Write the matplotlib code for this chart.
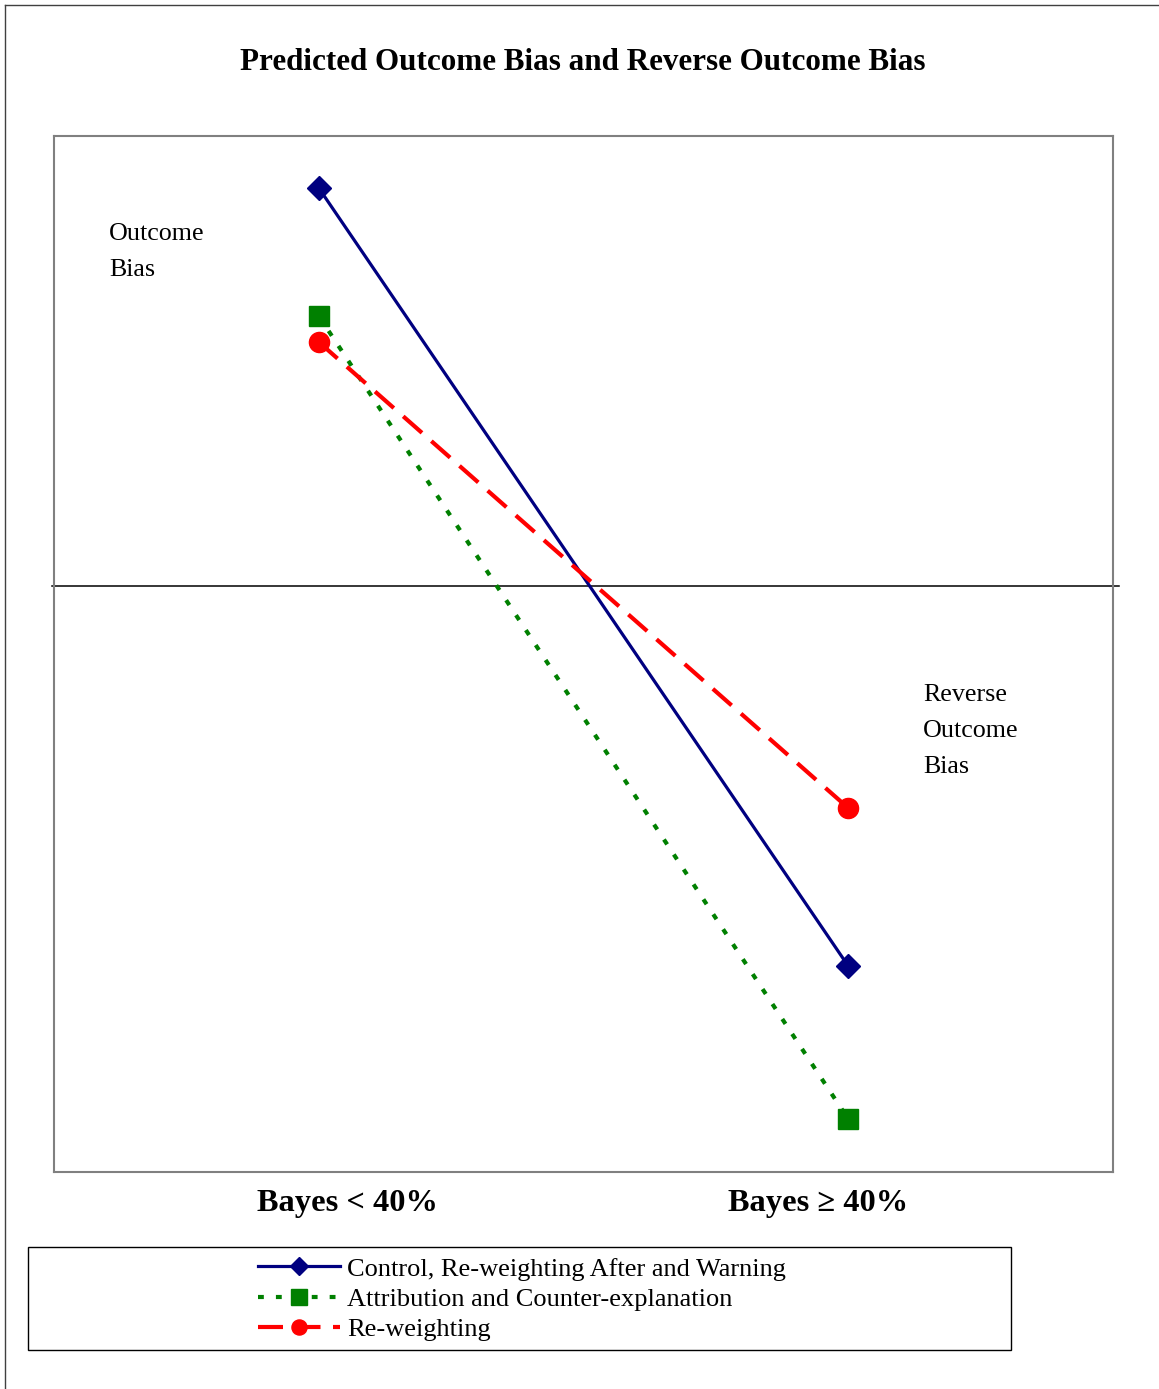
import matplotlib.pyplot as plt
from matplotlib.patches import Rectangle
from matplotlib.lines import Line2D

plt.rcParams['font.family'] = ['Liberation Serif', 'DejaVu Serif']

# categories and series (zero line = no bias)
categories = ['Bayes < 40%', 'Bayes \u2265 40%']
control = [3.98, -3.80]
attribution = [2.70, -5.33]
reweighting = [2.44, -2.22]
labels = ['Control, Re-weighting After and Warning',
          'Attribution and Counter-explanation',
          'Re-weighting']

fig = plt.figure(figsize=(11.59, 13.89), dpi=100)
ax = fig.add_axes([0.0466, 0.1562, 0.9137, 0.7459])

x = [1, 2]
ax.plot(x, control, color='#000080', lw=2.3, marker='D', ms=12, label=labels[0])
ax.plot(x, attribution, color='#008000', lw=3, marker='s', ms=14.5,
        dashes=(1.4, 2.9), label=labels[1])
ax.plot(x, reweighting, color='#ff0000', lw=3, marker='o', ms=14.5,
        dashes=(6, 3), label=labels[2])

# zero line sticks out a little past the frame
ax.plot([-0.002, 1.0057], [0.5652, 0.5652], transform=ax.transAxes,
        color='black', lw=1.1, clip_on=False, zorder=1)

ax.set_xlim(0.5, 2.5)
ax.set_ylim(-5.86, 4.50)
ax.set_xticks([])
ax.set_yticks([])
for s in ax.spines.values():
    s.set_color('#808080')
    s.set_linewidth(1.5)

ax.text(0.052, 0.888, 'Outcome\nBias', transform=ax.transAxes, fontsize=18.7,
        va='center', ha='left', linespacing=1.82)
ax.text(0.8206, 0.426, 'Reverse\nOutcome\nBias', transform=ax.transAxes,
        fontsize=18.7, va='center', ha='left', linespacing=1.82)

# category labels under the frame
fig.text(347 / 1159, 1 - 1204 / 1389, categories[0], fontsize=23.3,
         fontweight='bold', ha='center', va='center')
fig.text(818 / 1159, 1 - 1204 / 1389, categories[1], fontsize=23.3,
         fontweight='bold', ha='center', va='center')

fig.text(0.503, 1 - 63 / 1389, 'Predicted Outcome Bias and Reverse Outcome Bias',
         fontsize=22.4, fontweight='bold', ha='center', va='center')

# legend box
fig.patches.append(Rectangle((28 / 1159, 1 - 1350 / 1389), 983 / 1159, 103 / 1389,
                             transform=fig.transFigure, fill=False,
                             edgecolor='black', lw=1))
fig.legend(loc='center left', bbox_to_anchor=(258 / 1159, 1 - 1299 / 1389),
           frameon=False, fontsize=19, handlelength=3.1, handletextpad=0.27,
           labelspacing=0.25, borderpad=0, borderaxespad=0, markerscale=0.75)

# outer frame lines (top and left)
fig.add_artist(Line2D([5 / 1159, 1], [1 - 5 / 1389, 1 - 5 / 1389],
                      transform=fig.transFigure, color='#404040', lw=1))
fig.add_artist(Line2D([5 / 1159, 5 / 1159], [0, 1 - 5 / 1389],
                      transform=fig.transFigure, color='#404040', lw=1))

fig.savefig('out.png', dpi=100)
